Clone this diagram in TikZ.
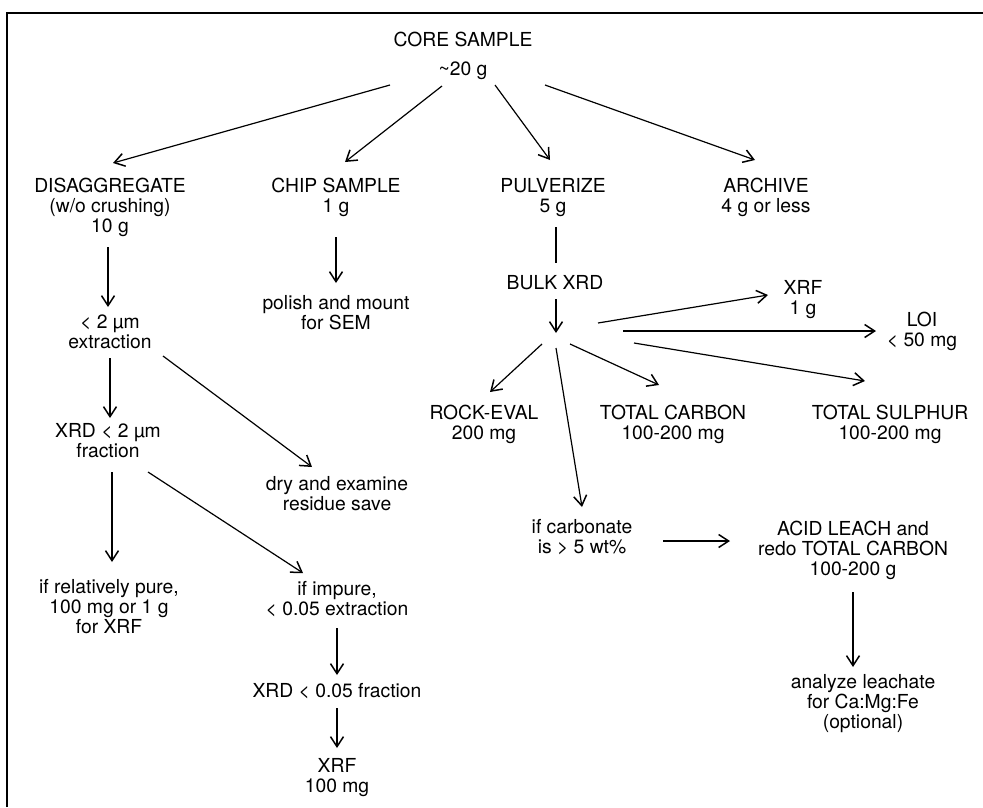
\documentclass[tikz,border=0pt]{standalone}
\usepackage{fontspec}
\setmainfont{TeX Gyre Heros}
\usetikzlibrary{arrows.meta}
\begin{document}
\begin{tikzpicture}[x=1pt,y=-1pt,
  lbl/.style={anchor=base, align=center, inner sep=0pt, font=\fontsize{19.3}{20}\selectfont},
  arr/.style={line width=1.2pt, -{Straight Barb[length=10pt,width=13pt,line width=1.5pt]}},
  ln/.style={line width=1.2pt},
  frame/.style={line width=1.8pt}]
\useasboundingbox (0,0) rectangle (983,807);
\draw[frame] (7,807) -- (7,13) -- (983,13);
% nodes (placed at the baseline of their last line)
\node[lbl] (core) at (463,75) {CORE SAMPLE\\[9pt]\textasciitilde20 g};
\node[lbl] (dis) at (110,232) {DISAGGREGATE\\(w/o crushing)\\10 g};
\node[lbl] (chip) at (336,212) {CHIP SAMPLE\\1 g};
\node[lbl] (pulv) at (553,212) {PULVERIZE\\5 g};
\node[lbl] (arch) at (766,212) {ARCHIVE\\4 g or less};
\node[lbl] (ext) at (110,348) {< 2 µm\\extraction};
\node[lbl] (polish) at (336,329) {polish and mount\\for SEM};
\node[lbl] (bulk) at (555,289) {BULK XRD};
\node[lbl] (xrd2) at (108,457) {XRD < 2 µm\\fraction};
\node[lbl] (dry) at (337,510) {dry and examine\\residue save};
\node[lbl] (pure) at (109,633) {if relatively pure,\\100 mg or 1 g\\for XRF};
\node[lbl] (impure) at (337,615) {if impure,\\< 0.05 extraction};
\node[lbl] (xrd005) at (337,697) {XRD < 0.05 fraction};
\node[lbl] (xrf100) at (337,792) {XRF\\100 mg};
\node[lbl] (xrf1) at (803,314) {XRF\\1 g};
\node[lbl] (loi) at (922,346) {LOI\\< 50 mg};
\node[lbl] (rock) at (484,439) {ROCK-EVAL\\200 mg};
\node[lbl] (tc) at (673,439) {TOTAL CARBON\\100-200 mg};
\node[lbl] (ts) at (890,439) {TOTAL SULPHUR\\100-200 mg};
\node[lbl] (carb) at (582,553) {if carbonate\\is > 5 wt\%};
\node[lbl] (acid) at (853,575) {ACID LEACH and\\redo TOTAL CARBON\\100-200 g};
\node[lbl] (anal) at (863,728) {analyze leachate\\for Ca:Mg:Fe\\(optional)};
\coordinate (hub) at (556,340);
% connectors
\draw[arr] ([shift={(-73,10)}]core.base) -- ([shift={(3,-69)}]dis.base);
\draw[arr] ([shift={(-21,11)}]core.base) -- ([shift={(9,-50)}]chip.base);
\draw[arr] ([shift={(32,10)}]core.base) -- ([shift={(-3,-52)}]pulv.base);
\draw[arr] ([shift={(82,10)}]core.base) -- ([shift={(-11,-52)}]arch.base);
\draw[arr] ([shift={(-2,15)}]dis.base) -- ([shift={(-2,-41)}]ext.base);
\draw[arr] ([shift={(0,25)}]chip.base) -- ([shift={(0,-46)}]polish.base);
\draw[ln] ([shift={(3,15)}]pulv.base) -- ([shift={(1,-26)}]bulk.base);
\draw[arr] ([shift={(0,10)}]ext.base) -- ([shift={(2,-39)}]xrd2.base);
\draw[arr] ([shift={(53,8)}]ext.base) -- ([shift={(-25,-43)}]dry.base);
\draw[arr] ([shift={(4,15)}]xrd2.base) -- ([shift={(3,-71)}]pure.base);
\draw[arr] ([shift={(40,15)}]xrd2.base) -- ([shift={(-34,-42)}]impure.base);
\draw[arr] ([shift={(0,13)}]impure.base) -- ([shift={(0,-22)}]xrd005.base);
\draw[arr] ([shift={(0,11)}]xrd005.base) -- ([shift={(0,-44)}]xrf100.base);
\draw[arr] ([shift={(1,10)}]bulk.base) -- ([shift={(0,-7)}]hub);
\draw[arr] ([shift={(42,-17)}]hub) -- ([shift={(-35,-19)}]xrf1.base);
\draw[arr] ([shift={(67,-9)}]hub) -- ([shift={(-46,-15)}]loi.base);
\draw[arr] ([shift={(78,3)}]hub) -- ([shift={(-25,-58)}]ts.base);
\draw[arr] ([shift={(14,4)}]hub) -- ([shift={(-14,-54)}]tc.base);
\draw[arr] ([shift={(-14,4)}]hub) -- ([shift={(6,-47)}]rock.base);
\draw[arr] ([shift={(0,8)}]hub) -- ([shift={(0,-46)}]carb.base);
\draw[arr] ([shift={(81,-12)}]carb.base) -- ([shift={(-123,-34)}]acid.base);
\draw[arr] ([shift={(0,17)}]acid.base) -- ([shift={(-10,-61)}]anal.base);
\end{tikzpicture}
\end{document}
